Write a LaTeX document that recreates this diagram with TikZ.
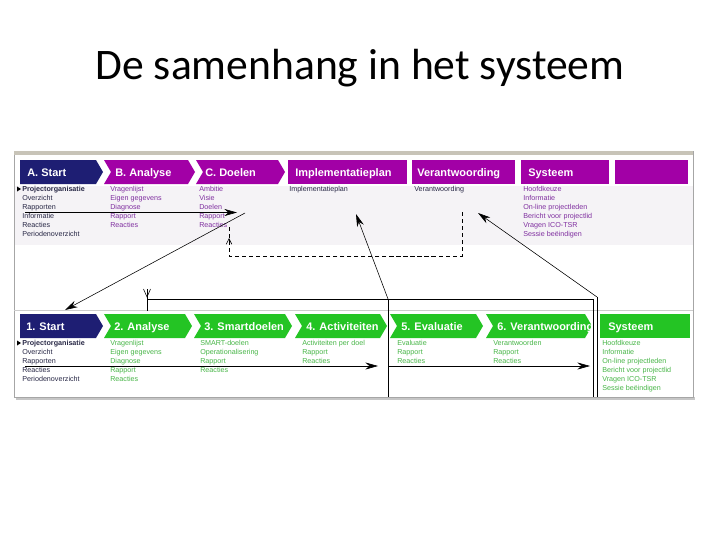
\documentclass[tikz,border=0pt]{standalone}
\usepackage{fontspec}
\setmainfont{Carlito}
\newfontfamily\uifont{Liberation Sans}
\usepackage{xcolor}
\usepackage{tikz}
\usetikzlibrary{arrows.meta}

\definecolor{navyhd}{RGB}{30,30,115}
\definecolor{purplehd}{RGB}{162,0,166}
\definecolor{greenhd}{RGB}{36,196,36}
\definecolor{purpletxt}{RGB}{128,48,160}
\definecolor{greentxt}{RGB}{72,182,72}
\definecolor{darktxt}{RGB}{40,40,70}
\definecolor{bandgray}{RGB}{200,196,184}
\definecolor{panelfill}{RGB}{245,243,246}

% header boxes: left x, right x, top y, colour
\newcommand{\chevfirst}[4]{\fill[#4] (#1,#3) -- (#2-7,#3) -- (#2,#3+12) -- (#2-7,#3+24) -- (#1,#3+24) -- cycle;}
\newcommand{\chevnext}[4]{\fill[#4] (#1,#3) -- (#2-7,#3) -- (#2,#3+12) -- (#2-7,#3+24) -- (#1,#3+24) -- (#1+7,#3+12) -- cycle;}
\newcommand{\plainbox}[4]{\fill[#4] (#1,#3) rectangle (#2,#3+24);}

\begin{document}
\begin{tikzpicture}[x=0.025cm, y=-0.025cm,
    hd/.style={font=\uifont\bfseries\fontsize{7.8}{9}\selectfont, text=white, anchor=base west, inner sep=0},
    col/.style={font=\uifont\fontsize{5.1}{6.38}\selectfont, align=left, anchor=north west, inner sep=0},
    link/.style={-{Stealth[length=9pt,width=5pt]}, thin}]
    \fill[white] (0,0) rectangle (720,540);
    \useasboundingbox (0,0) rectangle (720,540);

    \node[font=\fontsize{31}{36}\selectfont] (title) at (360,68) {De samenhang in het systeem};

    % screenshot frame
    \fill[panelfill] (14,186) rectangle (693,245);
    \fill[gray!45] (16,397) rectangle (695,400);
    \draw[gray!70] (14,151) rectangle (693,397);
    \fill[bandgray] (14,151) rectangle (693,155);
    \draw[gray!40] (14,310) -- (693,310);

    % top row
    \chevfirst{20}{103}{160}{navyhd}
    \chevnext{104}{195}{160}{purplehd}
    \chevnext{196}{285}{160}{purplehd}
    \plainbox{288}{407}{160}{purplehd}
    \plainbox{412}{515}{160}{purplehd}
    \plainbox{521}{609}{160}{purplehd}
    \plainbox{615}{688}{160}{purplehd}
    \node[hd] (tA) at (27,176.5) {A. Start};
    \node[hd] (tB) at (115,176.5) {B. Analyse};
    \node[hd] (tC) at (205,176.5) {C. Doelen};
    \node[hd] (tImpl) at (295,176.5) {Implementatieplan};
    \node[hd] (tVer) at (417,176.5) {Verantwoording};
    \node[hd] (tSys) at (528,176.5) {Systeem};

    \fill[black] (17,186.5) -- (21,189) -- (17,191.5) -- cycle;
    \node[col, text=darktxt] (lA) at (22,186) {\bfseries Projectorganisatie\\Overzicht\\Rapporten\\Informatie\\Reacties\\Periodenoverzicht};
    \node[col, text=purpletxt] (lB) at (110,186) {Vragenlijst\\Eigen gegevens\\Diagnose\\Rapport\\Reacties};
    \node[col, text=purpletxt] (lC) at (199,186) {Ambitie\\Visie\\Doelen\\Rapport\\Reacties};
    \node[col, text=darktxt] (lImpl) at (289,186) {Implementatieplan};
    \node[col, text=darktxt] (lVer) at (414,186) {Verantwoording};
    \node[col, text=purpletxt] (lSys) at (523,186) {Hoofdkeuze\\Informatie\\On-line projectleden\\Bericht voor projectlid\\Vragen ICO-TSR\\Sessie beëindigen};

    % bottom row
    \chevfirst{20}{103}{314}{navyhd}
    \chevnext{104}{192}{314}{greenhd}
    \chevnext{194}{292}{314}{greenhd}
    \chevnext{295}{387}{314}{greenhd}
    \chevnext{390}{483}{314}{greenhd}
    \chevnext{486}{592}{314}{greenhd}
    \plainbox{600}{690}{314}{greenhd}
    \node[hd] (b1) at (26,330.5) {1. Start};
    \node[hd] (b2) at (114,330.5) {2. Analyse};
    \node[hd] (b3) at (204,330.5) {3. Smartdoelen};
    \node[hd] (b4) at (306,330.5) {4. Activiteiten};
    \node[hd] (b5) at (401,330.5) {5. Evaluatie};
    \node[hd] (b6) at (497,330.5) {6. Verantwoording};
    \node[hd] (bSys) at (608,330.5) {Systeem};

    \fill[black] (17,340.5) -- (21,343) -- (17,345.5) -- cycle;
    \node[col, text=darktxt] (m1) at (22,340) {\bfseries Projectorganisatie\\Overzicht\\Rapporten\\Reacties\\Periodenoverzicht};
    \node[col, text=greentxt] (m2) at (110,340) {Vragenlijst\\Eigen gegevens\\Diagnose\\Rapport\\Reacties};
    \node[col, text=greentxt] (m3) at (200,340) {SMART-doelen\\Operationalisering\\Rapport\\Reacties};
    \node[col, text=greentxt] (m4) at (302,340) {Activiteiten per doel\\Rapport\\Reacties};
    \node[col, text=greentxt] (m5) at (397,340) {Evaluatie\\Rapport\\Reacties};
    \node[col, text=greentxt] (m6) at (493,340) {Verantwoorden\\Rapport\\Reacties};
    \node[col, text=greentxt] (mSys) at (602,340) {Hoofdkeuze\\Informatie\\On-line projectleden\\Bericht voor projectlid\\Vragen ICO-TSR\\Sessie beëindigen};

    % connectors
    \coordinate (topL) at (25,212.5);
    \coordinate (topR) at (237,212.5);
    \coordinate (doelS) at (245,213);
    \coordinate (startB) at (65,310);
    \coordinate (implT) at (356,214);
    \coordinate (implB) at (388,299);
    \coordinate (sysT) at (478,213);
    \coordinate (sysB) at (597,297);
    \coordinate (brL) at (147,299);
    \coordinate (brR) at (593,299);
    \coordinate (botL) at (25,366);
    \coordinate (botM) at (378,366);
    \coordinate (botN) at (388,366);
    \coordinate (botR) at (590,366);

    \draw[link] (topL) -- (topR);
    \draw[link] (doelS) -- (startB);
    \draw[link] (implB) -- (implT);
    \draw[link] (sysB) -- (sysT);
    \draw[thin] (implB) -- (388,397);
    \draw[thin] (sysB) -- (597,397);
    \draw[thin] (brL) -- (brR) -- (593,397);
    \draw[thin] (147,289) -- (147,311);
    \draw[thin] (143.5,289) -- (147,297) -- (150.5,289);
    \draw[link] (botL) -- (botM);
    \draw[link] (botN) -- (botR);

    % dashed loop back to C
    \draw[densely dashed, thin] (462,212) -- (462,256) -- (229,256) -- (229,244);
    \draw[densely dashed, thin, -{Straight Barb[length=4pt,width=4pt]}] (229,244) -- (229,238);
    \draw[densely dashed, thin] (229,238) -- (229,227);
\end{tikzpicture}
\end{document}
